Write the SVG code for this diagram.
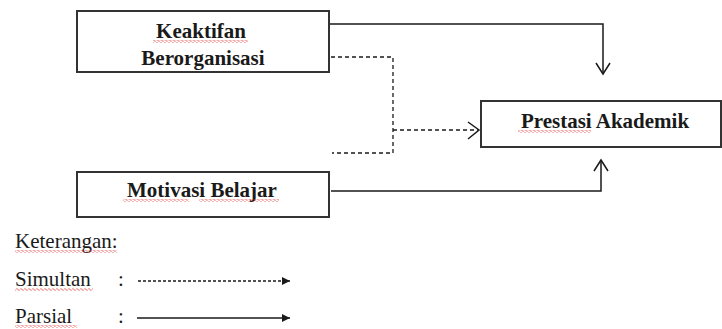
<svg xmlns="http://www.w3.org/2000/svg" width="722" height="329" viewBox="0 0 722 329">
<style>
.box{fill:#fff;stroke:#333;stroke-width:2}
.nofill{fill:none;stroke:#333;stroke-width:2}
.lbl{font-family:'Liberation Serif','DejaVu Serif',serif;font-weight:bold;font-size:21px;fill:#1a1a1a}
.leg{font-family:'Liberation Serif','DejaVu Serif',serif;font-size:21px;fill:#1a1a1a}
.solid{fill:none;stroke:#1a1a1a;stroke-width:1.5}
.dash{fill:none;stroke:#1a1a1a;stroke-width:1.3;stroke-dasharray:4 3}
.ldash{fill:none;stroke:#1a1a1a;stroke-width:1.3;stroke-dasharray:3 2}
.head{fill:none;stroke:#1a1a1a;stroke-width:1.5}
.wave{fill:url(#wave)}
</style>
<defs>
<pattern id="wave" width="4" height="3" patternUnits="userSpaceOnUse">
<path d="M0 1.5 L1 0.5 L3 2.5 L4 1.5" fill="none" stroke="#e03030" stroke-width="0.8"/>
</pattern>
<clipPath id="clipK"><rect x="77" y="11" width="252" height="61"/></clipPath>
<marker id="tri" viewBox="0 0 10 10" refX="10" refY="5" markerWidth="8" markerHeight="8" markerUnits="userSpaceOnUse" orient="auto">
<path d="M0 0 L10 5 L0 10 Z" fill="#1a1a1a"/>
</marker>
</defs>
<rect width="722" height="329" fill="#fff"/>
<g id="connectors">
<path class="solid" d="M329 24 H603 V74"/>
<path class="head" d="M596 63 L603 74 L610 63"/>
<path class="solid" d="M331 191 H601 V160"/>
<path class="head" d="M594 171 L601 160 L608 171"/>
<path class="dash" d="M331 57 H393 V153 H332"/>
<path class="dash" d="M393 130 H478"/>
<path class="head" d="M468 122 L479 130 L468 139"/>
</g>
<g id="keaktifan">
<rect class="box" x="77" y="11" width="252" height="61"/>
<text class="lbl" x="201" y="38" text-anchor="middle">Keaktifan</text>
<rect class="wave" x="153" y="40" width="95" height="3"/>
<text class="lbl" x="203" y="65" text-anchor="middle" clip-path="url(#clipK)">Berorganisasi</text>
<rect class="nofill" x="77" y="11" width="252" height="61"/>
</g>
<g id="motivasi">
<rect class="box" x="77" y="172" width="252" height="45"/>
<text class="lbl" x="202" y="197" text-anchor="middle">Motivasi Belajar</text>
<rect class="wave" x="123" y="199" width="66" height="3"/>
<rect class="wave" x="199" y="199" width="80" height="3"/>
</g>
<g id="prestasi">
<rect class="box" x="481" y="101" width="240" height="46"/>
<text class="lbl" x="605" y="128" text-anchor="middle">Prestasi Akademik</text>
<rect class="wave" x="518" y="130" width="73" height="3"/>
</g>
<g id="legend">
<text class="leg" x="15" y="248">Keterangan:</text>
<rect class="wave" x="15" y="250" width="102" height="3"/>
<text class="leg" x="15" y="286">Simultan</text>
<rect class="wave" x="15" y="288" width="78" height="3"/>
<text class="leg" x="118" y="286">:</text>
<line class="ldash" x1="138" y1="281" x2="290" y2="281" marker-end="url(#tri)"/>
<text class="leg" x="15" y="323">Parsial</text>
<rect class="wave" x="15" y="325" width="62" height="3"/>
<text class="leg" x="118" y="323">:</text>
<line class="solid" x1="137" y1="318" x2="290" y2="318" marker-end="url(#tri)"/>
</g>
</svg>
